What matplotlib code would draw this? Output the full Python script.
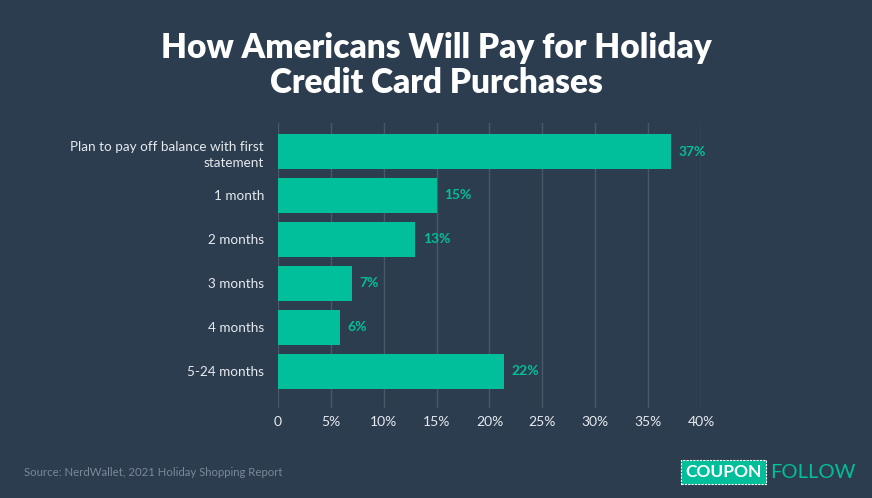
import matplotlib

matplotlib.use("Agg")
import matplotlib.pyplot as plt
from matplotlib.patches import FancyBboxPatch

categories = [
    "Plan to pay off balance with first\nstatement",
    "1 month",
    "2 months",
    "3 months",
    "4 months",
    "5-24 months",
]
values = [37.2, 15.0, 13.0, 7.0, 5.9, 21.4]
value_labels = ["37%", "15%", "13%", "7%", "6%", "22%"]
x_ticks = [0, 5, 10, 15, 20, 25, 30, 35, 40]
x_tick_labels = ["0", "5%", "10%", "15%", "20%", "25%", "30%", "35%", "40%"]

BG = "#2d3d50"
BAR = "#00bf9a"
GRID = "#485869"
TEXT = "#e6eaee"
plt.rcParams["font.family"] = ["Lato", "DejaVu Sans"]

fig = plt.figure(figsize=(8.72, 4.98), dpi=100, facecolor=BG)
ax = fig.add_axes([0.3188, 0.1807, 0.4851, 0.5723])
ax.set_facecolor(BG)

y = list(range(len(categories)))
ax.barh(y, values, height=0.8, color=BAR, zorder=3)
for yi, v, lab in zip(y, values, value_labels):
    ax.text(v + 0.7, yi, lab, va="center", ha="left", color=BAR,
            fontsize=10, fontweight="bold", zorder=4)

ax.set_xlim(0, 40)
ax.set_ylim(5.84, -0.65)
ax.set_xticks(x_ticks)
ax.set_xticklabels(x_tick_labels, color=TEXT, fontsize=10)
ax.set_yticks(y)
ax.set_yticklabels(categories, color=TEXT, fontsize=9.7,
                   multialignment="right", linespacing=1.45)
ax.tick_params(axis="both", length=0)
ax.tick_params(axis="y", pad=10)
ax.tick_params(axis="x", pad=6)
ax.grid(axis="x", color=GRID, linewidth=1, zorder=0)
for s in ax.spines.values():
    s.set_visible(False)

fig.text(0.5, 0.868, "How Americans Will Pay for Holiday\nCredit Card Purchases",
         ha="center", va="center", color="white", fontsize=24,
         fontweight="heavy", linespacing=1.12)

fig.text(0.0275, 0.052, "Source: NerdWallet, 2021 Holiday Shopping Report",
         color="#7a8898", fontsize=8.2, va="center", ha="left")

# logo
box = FancyBboxPatch((0.781, 0.028), 0.098, 0.048, boxstyle="square,pad=0",
                     transform=fig.transFigure, facecolor=BAR,
                     edgecolor="white", linestyle=(0, (2, 1)), linewidth=0.8)
fig.patches.append(box)
fig.text(0.830, 0.052, "COUPON", color="white", fontsize=12.5,
         fontweight="bold", ha="center", va="center")
fig.text(0.883, 0.052, "FOLLOW", color=BAR, fontsize=14.5,
         ha="left", va="center")

fig.savefig("out.png", dpi=100, facecolor=BG)
